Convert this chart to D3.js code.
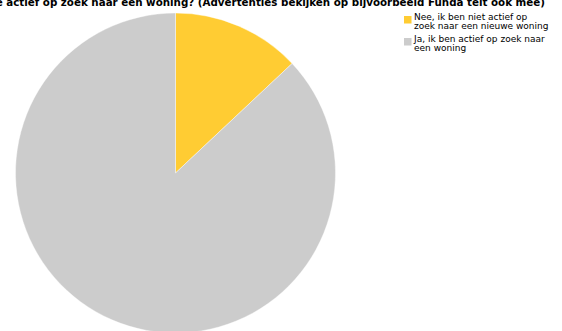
<!DOCTYPE html>
<html>
<head>
<meta charset="utf-8">
<script src="https://cdn.jsdelivr.net/npm/d3@7"></script>
<style>
  html, body { margin: 0; padding: 0; background: #fff; overflow: hidden; }
  svg { display: block; }
</style>
</head>
<body>
<svg id="chart" width="562" height="331"></svg>
<script>
// Survey answers and their shares (percent)
const categories = [
  "Nee, ik ben niet actief op zoek naar een nieuwe woning",
  "Ja, ik ben actief op zoek naar een woning"
];
const values = [13, 87];
const colors = ["#FFCC33", "#CCCCCC"];
const legendLines = [
  ["Nee, ik ben niet actief op", "zoek naar een nieuwe woning"],
  ["Ja, ik ben actief op zoek naar", "een woning"]
];
const title = "Ben je actief op zoek naar een woning? (Advertenties bekijken op bijvoorbeeld Funda telt ook mee)";

const svg = d3.select("#chart");

// Title (wider than the frame, right part visible)
svg.append("text")
  .attr("x", 545)
  .attr("y", 5.5)
  .attr("text-anchor", "end")
  .style("font-family", "'DejaVu Sans', sans-serif")
  .style("font-weight", "bold")
  .style("font-size", "10.3px")
  .attr("fill", "#000")
  .text(title);

// Pie
const cx = 175.5, cy = 173, radius = 160;
const color = d3.scaleOrdinal().domain(categories).range(colors);
const pie = d3.pie().sort(null).value(d => d.value);
const arc = d3.arc().innerRadius(0).outerRadius(radius);
const data = categories.map((c, i) => ({ name: c, value: values[i] }));

svg.append("g")
  .attr("transform", `translate(${cx},${cy})`)
  .selectAll("path")
  .data(pie(data))
  .join("path")
  .attr("d", arc)
  .attr("fill", d => color(d.data.name))
  .attr("stroke", "#fff")
  .attr("stroke-width", 0.4);

// Legend
const legend = svg.append("g").attr("transform", "translate(404,0)");
const itemY = d3.scalePoint().domain(categories).range([16, 38]);
const item = legend.selectAll("g.item")
  .data(categories)
  .join("g")
  .attr("class", "item")
  .attr("transform", d => `translate(0,${itemY(d)})`);

item.append("rect")
  .attr("width", 7.5)
  .attr("height", 7.5)
  .attr("fill", d => color(d));

item.append("text")
  .attr("x", 10)
  .attr("y", 3.5)
  .style("font-family", "'DejaVu Sans', sans-serif")
  .style("font-size", "9px")
  .attr("fill", "#000")
  .selectAll("tspan")
  .data((d, i) => legendLines[i])
  .join("tspan")
  .attr("x", 10)
  .attr("dy", (d, j) => j === 0 ? 0 : 9.3)
  .text(d => d);
</script>
</body>
</html>
